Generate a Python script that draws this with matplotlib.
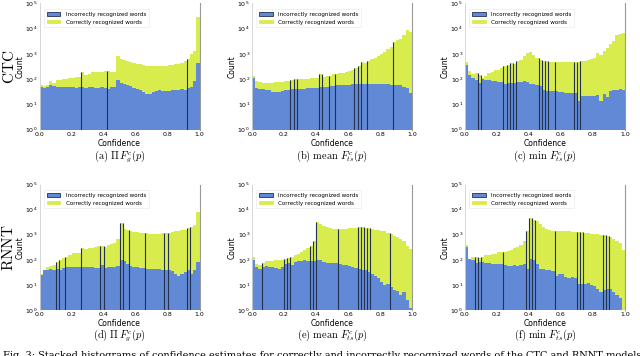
import matplotlib
matplotlib.use("Agg")
import matplotlib.pyplot as plt
from matplotlib.patches import Patch
import numpy as np

plt.rcParams['mathtext.fontset'] = 'cm'
plt.rcParams['font.family'] = ['DejaVu Sans']

# ---------------- data (counts per bin, 50 bins on [0,1]) ----------------
bin_edges = np.linspace(0.0, 1.0, 51)

a_incorrect = [50, 46, 48, 58, 52, 50, 48, 50, 47, 48,
               47, 46, 50, 48, 46, 48, 47, 46, 45, 47,
               44, 42, 48, 50, 90, 72, 62, 56, 52, 45,
               42, 36, 30, 26, 26, 30, 34, 36, 34, 33,
               35, 38, 36, 38, 40, 38, 43, 48, 85, 440]
a_correct = [57, 55, 56, 83, 72, 88, 92, 98, 102, 106,
             115, 120, 125, 190, 150, 155, 190, 195, 195, 200,
             205, 218, 195, 200, 790, 640, 560, 500, 460, 430,
             400, 380, 360, 340, 330, 320, 320, 325, 330, 340,
             350, 370, 390, 410, 450, 520, 600, 1000, 1300, 28000]

b_incorrect = [110, 46, 42, 40, 38, 36, 32, 30, 30, 33,
               36, 38, 40, 40, 42, 41, 42, 43, 44, 45,
               46, 47, 48, 50, 52, 55, 56, 57, 58, 60,
               60, 62, 62, 64, 64, 65, 66, 66, 65, 64,
               64, 62, 62, 60, 60, 58, 56, 50, 45, 28]
b_correct = [130, 85, 75, 72, 70, 70, 72, 75, 78, 80,
             83, 85, 92, 97, 100, 100, 102, 105, 108, 110,
             112, 160, 125, 130, 135, 160, 165, 170, 180, 195,
             205, 230, 275, 340, 460, 420, 520, 600, 680, 800,
             1000, 1200, 1500, 1800, 3000, 3500, 4000, 5500, 8500, 7500]

c_incorrect = [370, 150, 112, 90, 72, 97, 92, 88, 85, 83,
               80, 78, 65, 70, 72, 72, 75, 80, 83, 75,
               62, 62, 58, 53, 36, 35, 34, 34, 33, 32,
               30, 29, 29, 28, 29, 14, 22, 22, 22, 22,
               22, 24, 14, 25, 20, 34, 36, 38, 40, 36]
c_correct = [460, 205, 160, 170, 150, 112, 130, 170, 193, 240,
             240, 270, 320, 360, 430, 380, 500, 580, 790, 1060,
             1150, 920, 680, 580, 540, 500, 470, 460, 460, 460,
             460, 460, 460, 460, 460, 460, 500, 530, 580, 640,
             680, 1060, 900, 1250, 1660, 2400, 3200, 5500, 6400, 6900]

d_incorrect = [24, 38, 40, 44, 40, 44, 38, 48, 51, 51,
               52, 50, 51, 50, 52, 50, 50, 48, 48, 60,
               48, 50, 50, 52, 55, 100, 92, 70, 55, 50,
               50, 48, 46, 44, 44, 44, 44, 42, 38, 40,
               40, 36, 28, 22, 28, 32, 38, 26, 38, 80]
d_correct = [28, 40, 51, 55, 63, 80, 94, 120, 130, 150,
             183, 185, 190, 300, 270, 285, 300, 320, 340, 370,
             330, 400, 420, 460, 670, 2800, 1650, 1500, 1350, 1300,
             1250, 1200, 1150, 1150, 1100, 1050, 1050, 1100, 1120, 1150,
             1200, 1250, 1350, 1450, 1500, 1600, 1800, 2000, 2500, 8300]

e_incorrect = [94, 51, 44, 51, 55, 52, 50, 48, 44, 50,
               70, 72, 62, 80, 90, 92, 94, 92, 90, 88,
               100, 94, 80, 75, 72, 75, 72, 70, 62, 60,
               56, 50, 46, 44, 40, 38, 32, 26, 22, 18,
               13, 10, 11, 8, 6, 5.5, 4, 5, 2.5, 1.2]
e_correct = [135, 70, 60, 75, 90, 92, 92, 94, 96, 100,
             110, 120, 135, 160, 165, 200, 250, 300, 370, 580,
             3300, 2600, 2200, 2000, 1800, 1700, 1650, 1650, 1700, 1750,
             1800, 1850, 1900, 1950, 1950, 1900, 1800, 1700, 1600, 1500,
             1450, 1350, 1200, 1050, 920, 830, 680, 580, 370, 270]

f_incorrect = [335, 110, 100, 74, 80, 85, 75, 72, 70, 68,
               70, 68, 60, 58, 55, 60, 58, 62, 70, 44,
               110, 94, 70, 44, 44, 40, 40, 35, 22, 28,
               26, 20, 18, 20, 18, 11, 11, 11, 12, 10,
               9, 7, 5, 6, 7, 7, 5, 4, 3, 1]
f_correct = [400, 110, 125, 130, 120, 125, 150, 155, 165, 170,
             200, 210, 200, 230, 250, 300, 320, 400, 580, 1450,
             4800, 4000, 3500, 2600, 2100, 1650, 1500, 1450, 1400, 1400,
             1350, 1350, 1350, 1300, 1300, 1250, 1250, 1200, 1150, 1100,
             1100, 1050, 1000, 950, 900, 780, 700, 580, 450, 250]

# bin edges (indices) that show a dark outline in the reference
a_outlined = [13, 21, 46]
b_outlined = [12, 13, 14, 21, 22, 24, 26, 32, 33, 34, 36, 44]
c_outlined = [4, 5, 12, 13, 14, 15, 16, 23, 24, 25, 26, 28, 34, 35, 36]
d_outlined = [5, 6, 8, 13, 19, 20, 25, 26, 28, 33, 39, 40, 46, 47]
e_outlined = [3, 10, 11, 12, 18, 19, 20, 27, 33, 34, 35, 36, 37, 43]
f_outlined = [3, 4, 5, 12, 19, 20, 21, 22, 28, 35, 36, 37, 43, 44, 45]

captions = [r'$(\mathrm{a})\ \Pi\, F^{c}_{g}(p)$',
            r'$(\mathrm{b})\ \mathrm{mean}\ F^{c}_{ts}(p)$',
            r'$(\mathrm{c})\ \min\ F^{c}_{ts}(p)$',
            r'$(\mathrm{d})\ \Pi\, F^{c}_{g}(p)$',
            r'$(\mathrm{e})\ \mathrm{mean}\ F^{c}_{ts}(p)$',
            r'$(\mathrm{f})\ \min\ F^{c}_{ts}(p)$']
row_labels = ['CTC', 'RNNT']
legend_labels = ['Incorrectly recognized words', 'Correctly recognized words']
x_ticks = [0.0, 0.2, 0.4, 0.6, 0.8, 1.0]
y_ticks = [1e0, 1e1, 1e2, 1e3, 1e4, 1e5]

panels = [(a_incorrect, a_correct, a_outlined), (b_incorrect, b_correct, b_outlined),
          (c_incorrect, c_correct, c_outlined), (d_incorrect, d_correct, d_outlined),
          (e_incorrect, e_correct, e_outlined), (f_incorrect, f_correct, f_outlined)]

BLUE = '#6189d6'
YELLOW = '#d8ec4e'
DARK = '#243050'

W, H = 640, 356
fig = plt.figure(figsize=(W / 100, H / 100), dpi=100)
fig.patch.set_facecolor('white')

col_left = [39.5, 252, 465]
ax_w = 160
row_top = [3.5, 184.5]
row_h = [126, 125.5]
cap_base = [159, 338]

lefts = bin_edges[:-1]
width = bin_edges[1] - bin_edges[0]

for k, (inc, cor, outl) in enumerate(panels):
    r, c = divmod(k, 3)
    ax = fig.add_axes([col_left[c] / W, 1 - (row_top[r] + row_h[r]) / H,
                       ax_w / W, row_h[r] / H])
    ax.set_yscale('log')
    ax.bar(lefts, cor, width=width, align='edge', color=YELLOW, linewidth=0)
    ax.bar(lefts, inc, width=width, align='edge', color=BLUE, linewidth=0)
    top = np.maximum(np.array(cor, float), np.array(inc, float))
    for e in outl:
        h = max(top[e - 1] if e > 0 else 0, top[e] if e < 50 else 0)
        ax.vlines(bin_edges[e], 1, h, color=DARK, linewidth=0.8, zorder=3)
    ax.set_xlim(0, 1)
    ax.set_ylim(1, 1e5)
    ax.set_xticks(x_ticks)
    ax.set_xticklabels([f'{t:.1f}' for t in x_ticks])
    ax.set_yticks(y_ticks)
    ax.minorticks_off()
    ax.tick_params(labelsize=4.5, length=0, pad=1.5)
    ax.set_xlabel('Confidence', fontsize=5.5, labelpad=1.5)
    ax.set_ylabel('Count', fontsize=5.5, labelpad=0.5)
    for s in ['top', 'bottom']:
        ax.spines[s].set_visible(False)
    ax.spines['left'].set_color('#d0d0d0')
    ax.spines['left'].set_linewidth(0.6)
    ax.spines['right'].set_color('#999999')
    ax.spines['right'].set_linewidth(0.8)
    handles = [Patch(facecolor=BLUE, edgecolor=DARK, linewidth=0.6),
               Patch(facecolor=YELLOW, edgecolor=YELLOW, linewidth=0.6)]
    leg = ax.legend(handles, legend_labels, loc='upper left', fontsize=4.1,
                    frameon=True, fancybox=False, borderpad=0.45,
                    handlelength=2.4, handleheight=0.6, handletextpad=1.0,
                    labelspacing=0.45, bbox_to_anchor=(0.01, 0.975))
    leg.get_frame().set_edgecolor('#e6e6e6')
    leg.get_frame().set_linewidth(0.5)
    fig.text((col_left[c] + ax_w / 2 + 0) / W, 1 - cap_base[r] / H, captions[k],
             ha='center', va='baseline', fontsize=7.5)

fig.text(9 / W, 1 - 67 / H, r'$\mathrm{CTC}$', rotation=90, ha='center',
         va='center', fontsize=11)
fig.text(9 / W, 1 - 248 / H, r'$\mathrm{RNNT}$', rotation=90, ha='center',
         va='center', fontsize=11)

fig.text(3 / W, 1 - 351 / H,
         'Fig. 3: Stacked histograms of confidence estimates for correctly and incorrectly recognized words of the CTC and RNNT models',
         ha='left', va='top', fontsize=7, family='DejaVu Serif')

fig.savefig('out.png', dpi=100, facecolor='white')
